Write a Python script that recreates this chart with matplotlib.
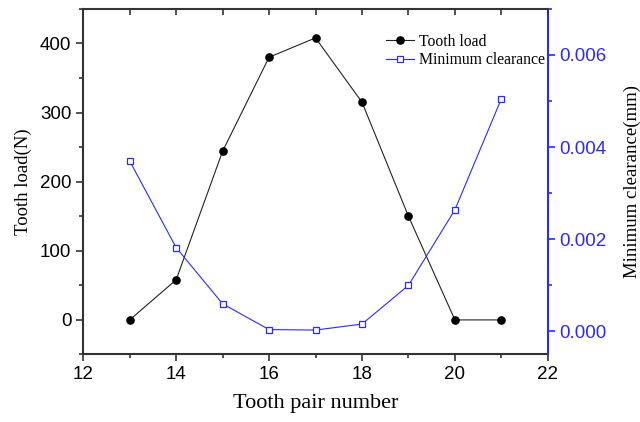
import numpy as np
import matplotlib.pyplot as plt
from matplotlib.ticker import MultipleLocator

# data
tooth_pair = [13, 14, 15, 16, 17, 18, 19, 20, 21]
tooth_load = [0, 58, 244, 380, 408, 315, 150, 0, 0]
min_clearance = [0.0037, 0.00182, 0.0006, 0.00004, 0.00003, 0.00016, 0.001, 0.00264, 0.00505]

blue = '#2a2aff'
spine_col = '#333333'
serif = 'Liberation Serif'
sans = 'Liberation Sans'

fig = plt.figure(figsize=(6.4, 4.22), dpi=100)
ax = fig.add_axes([0.130, 0.160, 0.726, 0.819])
ax2 = ax.twinx()

l1, = ax.plot(tooth_pair, tooth_load, color='#222222', lw=0.8,
              marker='o', ms=5.2, mfc='black', mec='black', label='Tooth load')
l2, = ax2.plot(tooth_pair, min_clearance, color=blue, lw=0.8,
               marker='s', ms=4.5, mfc='white', mec=blue, mew=0.9,
               label='Minimum clearance')

ax.set_xlim(12, 22)
ax.set_ylim(-50, 450)
ax2.set_ylim(-0.0005, 0.007)

ax.xaxis.set_major_locator(MultipleLocator(2))
ax.xaxis.set_minor_locator(MultipleLocator(1))
ax.yaxis.set_major_locator(MultipleLocator(100))
ax.yaxis.set_minor_locator(MultipleLocator(50))
ax2.yaxis.set_major_locator(MultipleLocator(0.002))
ax2.yaxis.set_minor_locator(MultipleLocator(0.001))
ax2.yaxis.set_major_formatter(plt.FormatStrFormatter('%.3f'))
ax.set_yticks([0, 100, 200, 300, 400])

for s in ['left', 'bottom', 'top']:
    ax.spines[s].set_color(spine_col)
    ax.spines[s].set_linewidth(1.5)
    ax2.spines[s].set_visible(False)
ax.spines['right'].set_visible(False)
ax2.spines['right'].set_color(blue)
ax2.spines['right'].set_linewidth(1.5)

ax.tick_params(axis='both', which='both', direction='out', color=spine_col,
               labelsize=13.5, width=1.2)
ax.tick_params(which='major', length=5)
ax.tick_params(which='minor', length=3)
ax2.tick_params(axis='y', which='both', direction='out', colors=blue,
                labelsize=13.5, width=1.2)
ax2.tick_params(which='major', length=5)
ax2.tick_params(which='minor', length=3)
for lab in ax.get_xticklabels() + ax.get_yticklabels() + ax2.get_yticklabels():
    lab.set_family(sans)

# top ticks point inward
axt = ax.twiny()
axt.set_xlim(ax.get_xlim())
axt.xaxis.set_major_locator(MultipleLocator(1))
axt.tick_params(axis='x', direction='in', length=4, width=1.2, color=spine_col,
                labeltop=False)
for s in axt.spines.values():
    s.set_visible(False)

ax.set_xlabel('Tooth pair number', family=serif, fontsize=16, labelpad=8)
ax.set_ylabel('Tooth load(N)', family=serif, fontsize=13.5, labelpad=6)
ax2.set_ylabel('Minimum clearance(mm)', family=serif, fontsize=13.5,
               labelpad=12, color='black')

ax.legend(handles=[l1, l2], loc='upper right', bbox_to_anchor=(1.01, 0.95),
          frameon=False, prop={'family': serif, 'size': 11.3},
          handlelength=1.8, handletextpad=0.3, labelspacing=0.15,
          borderaxespad=0.1)

fig.savefig('out.png', dpi=100)
